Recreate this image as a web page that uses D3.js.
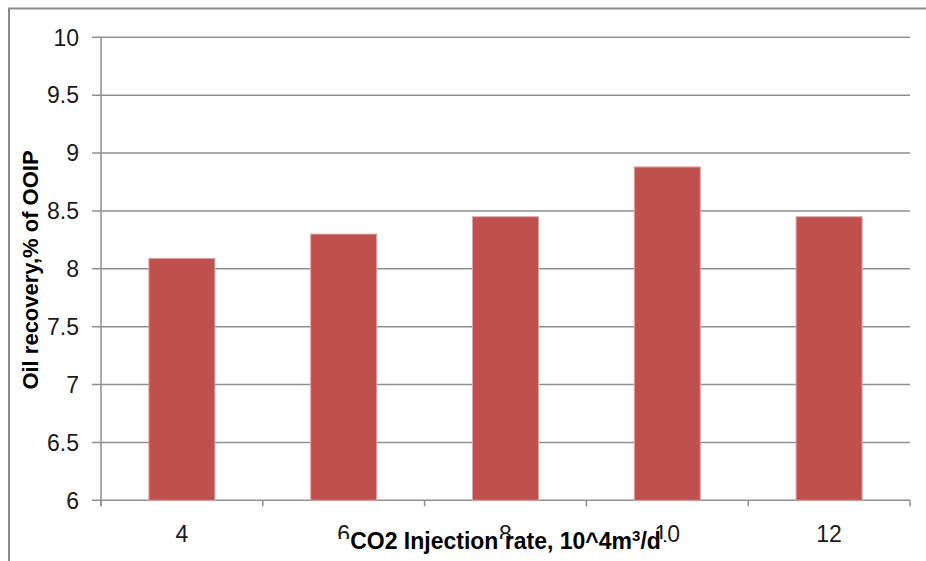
<!DOCTYPE html>
<html>
<head>
<meta charset="utf-8">
<script src="https://cdn.jsdelivr.net/npm/d3@7"></script>
<style>
  html, body { margin: 0; padding: 0; background: #ffffff; }
  svg { display: block; }
</style>
</head>
<body>
<svg id="chart" width="926" height="561"></svg>
<script>
// CO2 injection rate (10^4 m3/d) vs. oil recovery (% of OOIP)
const categories = ["4", "6", "8", "10", "12"];
const recovery = [8.09, 8.3, 8.45, 8.88, 8.45];
const yTicks = [6, 6.5, 7, 7.5, 8, 8.5, 9, 9.5, 10];

const svg = d3.select("#chart");
const W = 926, H = 561;
const plot = { left: 101, right: 910, top: 37.3, bottom: 500.3 };
const fontFamily = "'Liberation Sans', Arial, sans-serif";

// outer chart frame (extends past the right and bottom edges)
svg.append("rect")
  .attr("x", 9).attr("y", 8.5)
  .attr("width", W + 20).attr("height", H + 20)
  .attr("fill", "#ffffff")
  .attr("stroke", "#8a8a8a")
  .attr("stroke-width", 2);

const x = d3.scaleBand()
  .domain(categories)
  .range([plot.left, plot.right])
  .paddingInner(0.592)
  .paddingOuter(0.296);

const xEdge = d3.scaleLinear()
  .domain([0, categories.length])
  .range([plot.left, plot.right]);

const y = d3.scaleLinear()
  .domain([6, 10])
  .range([plot.bottom, plot.top]);

// horizontal gridlines
svg.append("g")
  .selectAll("line")
  .data(yTicks)
  .join("line")
  .attr("x1", plot.left - 9)
  .attr("x2", plot.right)
  .attr("y1", d => y(d))
  .attr("y2", d => y(d))
  .attr("stroke", "#8f8f8f")
  .attr("stroke-width", 1.5);

// bars
svg.append("g")
  .selectAll("rect")
  .data(categories.map((c, i) => ({ c, v: recovery[i] })))
  .join("rect")
  .attr("x", d => x(d.c))
  .attr("width", x.bandwidth())
  .attr("y", d => y(d.v))
  .attr("height", d => y(6) - y(d.v))
  .attr("fill", "#C0504D")
  .attr("stroke", "#e0a3a1")
  .attr("stroke-width", 1);

// y axis line
svg.append("line")
  .attr("x1", plot.left).attr("x2", plot.left)
  .attr("y1", plot.top).attr("y2", plot.bottom + 6)
  .attr("stroke", "#8f8f8f")
  .attr("stroke-width", 1.5);

// x axis category boundary ticks
svg.append("g")
  .selectAll("line")
  .data(d3.range(categories.length + 1))
  .join("line")
  .attr("x1", d => xEdge(d))
  .attr("x2", d => xEdge(d))
  .attr("y1", plot.bottom)
  .attr("y2", plot.bottom + 6)
  .attr("stroke", "#8f8f8f")
  .attr("stroke-width", 1.5);

// y tick labels
svg.append("g")
  .selectAll("text")
  .data(yTicks)
  .join("text")
  .attr("x", 79)
  .attr("y", d => y(d))
  .attr("dy", "0.36em")
  .attr("text-anchor", "end")
  .attr("font-family", fontFamily)
  .attr("font-size", 23)
  .attr("fill", "#1a1a1a")
  .text(d => d3.format("")(d));

// x tick labels
svg.append("g")
  .selectAll("text")
  .data(categories)
  .join("text")
  .attr("x", d => x(d) + x.bandwidth() / 2)
  .attr("y", 542)
  .attr("text-anchor", "middle")
  .attr("font-family", fontFamily)
  .attr("font-size", 23)
  .attr("fill", "#1a1a1a")
  .text(d => d);

// x axis title with its own background box
const xMid = (plot.left + plot.right) / 2;
svg.append("rect")
  .attr("x", 337).attr("y", 539)
  .attr("width", 327).attr("height", 30)
  .attr("fill", "#ffffff");

const xTitle = svg.append("text")
  .attr("x", xMid)
  .attr("y", 549)
  .attr("text-anchor", "middle")
  .attr("font-family", fontFamily)
  .attr("font-size", 23)
  .attr("font-weight", "bold")
  .attr("fill", "#000000");
xTitle.append("tspan").text("CO2 Injection rate, 10^4m");
xTitle.append("tspan").attr("font-size", 15).attr("dy", -8).text("3");
xTitle.append("tspan").attr("dy", 8).text("/d");

// y axis title
svg.append("text")
  .attr("transform", "translate(38,270) rotate(-90)")
  .attr("text-anchor", "middle")
  .attr("font-family", fontFamily)
  .attr("font-size", 22)
  .attr("font-weight", "bold")
  .attr("fill", "#000000")
  .text("Oil recovery,% of OOIP");
</script>
</body>
</html>
